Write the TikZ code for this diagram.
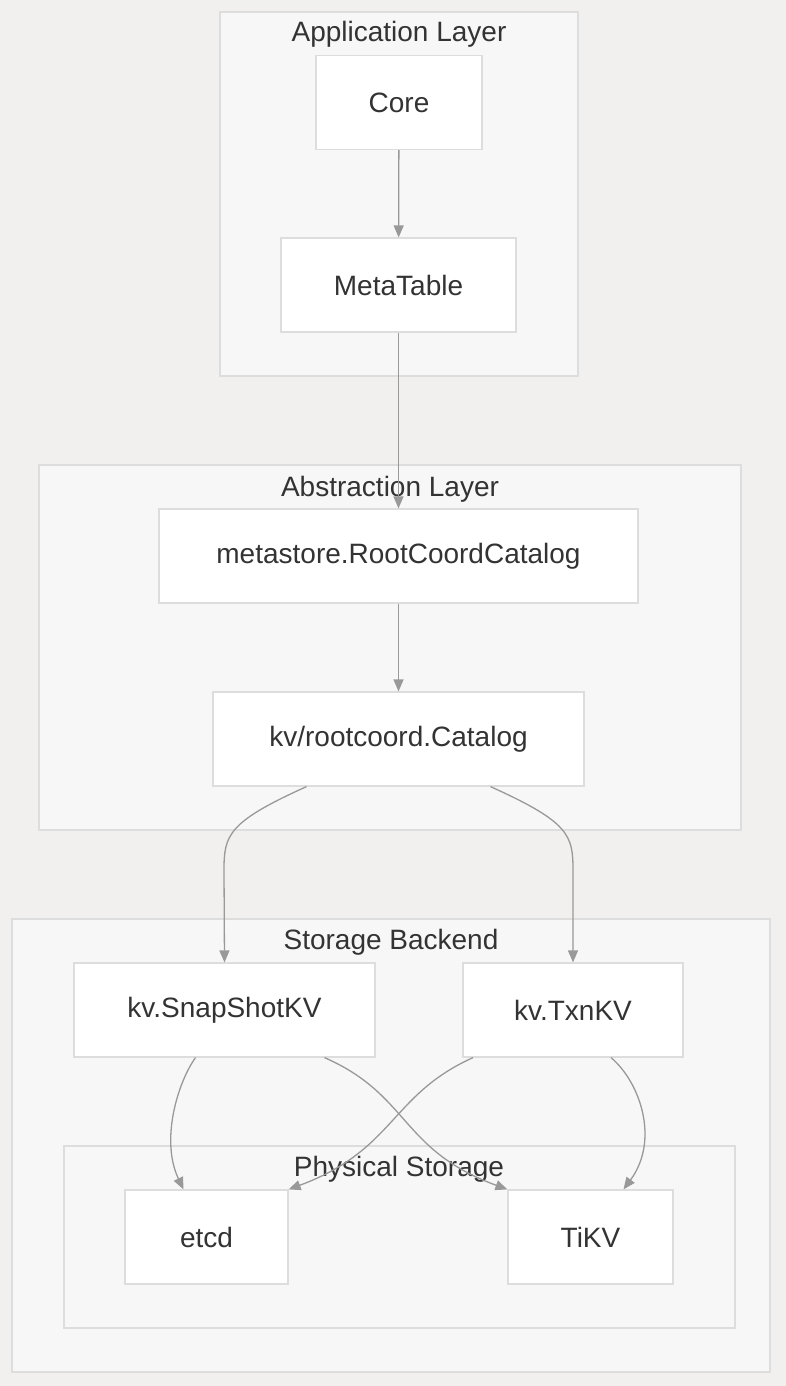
\documentclass[tikz,border=0pt]{standalone}
\usepackage{fontspec}
\setmainfont{Liberation Sans}
\usetikzlibrary{arrows.meta, calc}
\definecolor{bggray}{HTML}{F1F0EF}
\definecolor{boxgray}{HTML}{F7F7F7}
\definecolor{linegray}{HTML}{DDDDDD}
\definecolor{arrowgray}{HTML}{999999}
\definecolor{textgray}{HTML}{333333}

\begin{document}
\begin{tikzpicture}[x=1pt, y=-1pt, ->, >={Triangle[length=12pt, width=10pt]}, semithick,
	every node/.style={text=textgray, font=\fontsize{28}{32}\selectfont},
	block/.style={draw=linegray, fill=white, line width=1.2pt, minimum height=94pt, inner sep=0pt},
	layer/.style={draw=linegray, fill=boxgray, line width=1.2pt},
	link/.style={draw=arrowgray, line width=1.3pt}]
		\fill[bggray] (0, 0) rectangle (786, 1386);
		\useasboundingbox (0, 0) rectangle (786, 1386);
		
		\path[layer] (220, 12) rectangle (578, 376);
		\node (tapp) at (399, 34) {Application Layer};
		\node[block, minimum width=166pt] (core) at (399, 102.5) {Core};
		\node[block, minimum width=235pt] (meta) at (398.5, 285) {MetaTable};
		
		\path[layer] (39, 465) rectangle (741, 830);
		\node (tabs) at (390, 489) {Abstraction Layer};
		\node[block, minimum width=479pt] (rcc) at (398.5, 556) {metastore.RootCoordCatalog};
		\node[block, minimum width=371pt] (kvrc) at (398.5, 739) {kv/rootcoord.Catalog};
		
		\path[layer] (12, 919) rectangle (770, 1372);
		\node (tsto) at (391, 942) {Storage Backend};
		\node[block, minimum width=301pt] (snap) at (224.5, 1010) {kv.SnapShotKV};
		\node[block, minimum width=220pt] (txn) at (573, 1010) {kv.TxnKV};
		
		\path[layer] (64, 1146) rectangle (735, 1328);
		\node (tphy) at (399, 1169) {Physical Storage};
		\node[block, minimum width=163pt] (etcd) at (206.5, 1237) {etcd};
		\node[block, minimum width=165pt] (tikv) at (590.5, 1237) {TiKV};
		
		\path[link] (core) -- (meta);
		\path[link] (meta) -- (rcc);
		\path[link] (rcc) -- (kvrc);
		\path[link] ($(kvrc.south)+(-92, 0)$) .. controls (228, 822) and (224, 835) .. (224, 870) -- (snap.north);
		\path[link] ($(kvrc.south)+(92, 0)$) .. controls (569, 822) and (573, 835) .. (573, 870) -- (txn.north);
		\path[link] ($(snap.south)+(-29, 0)$) .. controls (178, 1082) and (160, 1140) .. ($(etcd.north)+(-23, 0)$);
		\path[link] ($(snap.south)+(100, 0)$) .. controls (410, 1095) and (400, 1150) .. (tikv.north west);
		\path[link] ($(txn.south)+(-100, 0)$) .. controls (390, 1095) and (395, 1150) .. (etcd.north east);
		\path[link] ($(txn.south)+(38, 0)$) .. controls (640, 1082) and (660, 1140) .. ($(tikv.north)+(33, 0)$);
	\end{tikzpicture}
\end{document}
